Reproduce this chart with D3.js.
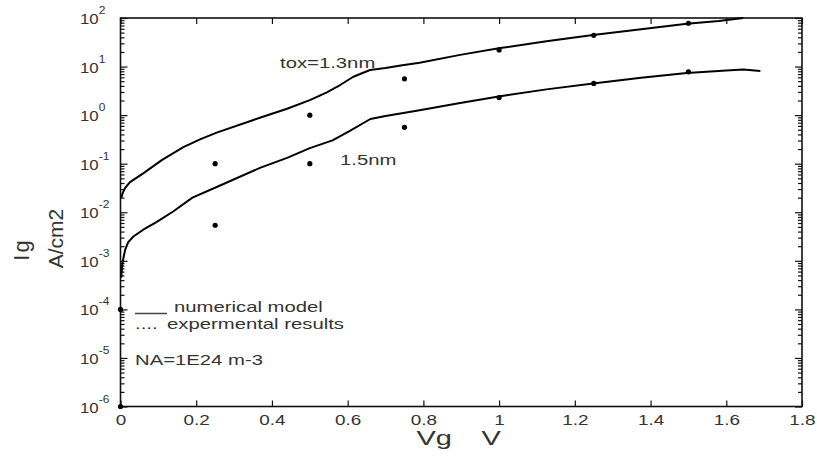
<!DOCTYPE html>
<html>
<head>
<meta charset="utf-8">
<script src="https://cdn.jsdelivr.net/npm/d3@7"></script>
<style>
  body { margin: 0; background: #fff; }
  text { font-family: "Liberation Sans", Arial, sans-serif; fill: #333; }
</style>
</head>
<body>
<div id="chart"></div>
<script>
// numerical model, tox = 1.3nm
const model13V = [0.002, 0.006, 0.012, 0.025, 0.06, 0.11, 0.166, 0.21, 0.254, 0.37, 0.44, 0.50, 0.545, 0.58, 0.615, 0.659, 0.70, 0.74, 0.79, 0.897, 1.003, 1.125, 1.248, 1.375, 1.496, 1.58, 1.645]
const model13I = [0.020, 0.0251, 0.0316, 0.0417, 0.0631, 0.120, 0.219, 0.316, 0.437, 0.891, 1.35, 2.04, 2.95, 4.17, 6.17, 8.51, 9.33, 10.5, 12.0, 17.4, 24.0, 33.1, 44.7, 58.9, 75.9, 87.1, 100]
// numerical model, tox = 1.5nm
const model15V = [0.002, 0.005, 0.012, 0.02, 0.034, 0.06, 0.096, 0.14, 0.19, 0.254, 0.37, 0.44, 0.50, 0.56, 0.607, 0.66, 0.70, 0.79, 0.897, 1.003, 1.125, 1.248, 1.375, 1.496, 1.60, 1.645, 1.69]
const model15I = [0.000447, 0.000891, 0.00166, 0.0024, 0.00316, 0.00437, 0.00631, 0.0105, 0.020, 0.0331, 0.0832, 0.132, 0.209, 0.302, 0.479, 0.832, 0.955, 1.26, 1.78, 2.45, 3.39, 4.47, 5.89, 7.41, 8.32, 8.71, 8.13]
// experimental results
const expV = [0.25, 0.5, 0.75, 1.0, 1.25, 1.5]
const exp13I = [0.1, 1.0, 5.6, 22, 44, 78]
const exp15I = [0.0054, 0.1, 0.56, 2.3, 4.5, 7.8]
const expZeroI = [1e-4, 1e-6]

const xTicks = [0, 0.2, 0.4, 0.6, 0.8, 1, 1.2, 1.4, 1.6, 1.8]
const yDecades = [-6, -5, -4, -3, -2, -1, 0, 1, 2]

var width = 817, height = 456
var plot = {left: 120.5, right: 802, top: 18, bottom: 406.5}

var svg = d3.select("#chart").append("svg")
  .attr("width", width)
  .attr("height", height)

var x = d3.scaleLinear().domain([0, 1.8]).range([plot.left, plot.right])
var y = d3.scaleLog().domain([1e-6, 1e2]).range([plot.bottom, plot.top])

var majors = yDecades.map(e => Math.pow(10, e))
var minors = []
yDecades.slice(0, -1).forEach(e => {
  for (let k = 2; k <= 9; k++) minors.push(k * Math.pow(10, e))
})

// horizontally stretched text, like the scanned original
function label(x0, y0, str, size, k, anchor) {
  return svg.append("text")
    .attr("transform", `translate(${x0},${y0}) scale(${k},1)`)
    .attr("font-size", size + "px")
    .attr("text-anchor", anchor || "start")
    .text(str)
}

// frame
svg.append("rect")
  .attr("x", plot.left).attr("y", plot.top)
  .attr("width", plot.right - plot.left).attr("height", plot.bottom - plot.top)
  .attr("fill", "none").attr("stroke", "#111").attr("stroke-width", 1.6)

// ticks point inwards
function styleAxis(g) {
  g.select(".domain").remove()
  g.selectAll(".tick line").attr("stroke", "#111").attr("stroke-width", 1.2)
}

svg.append("g")
  .attr("transform", `translate(0,${plot.bottom})`)
  .call(d3.axisBottom(x).tickValues(xTicks).tickSizeInner(-6).tickSizeOuter(0).tickPadding(8.5)
    .tickFormat(d3.format("")))
  .call(styleAxis)
  .call(g => g.selectAll(".tick text")
    .attr("font-size", "14px").attr("fill", "#444")
    .attr("font-family", "Liberation Sans, Arial, sans-serif")
    .attr("transform", "scale(1.35,1)"))

svg.append("g")
  .attr("transform", `translate(0,${plot.top})`)
  .call(d3.axisTop(x).tickValues(xTicks).tickSizeInner(-6).tickSizeOuter(0).tickFormat(""))
  .call(styleAxis)

svg.append("g").attr("transform", `translate(${plot.left},0)`)
  .call(d3.axisLeft(y).tickValues(majors).tickSizeInner(-7).tickSizeOuter(0).tickFormat(""))
  .call(styleAxis)
svg.append("g").attr("transform", `translate(${plot.left},0)`)
  .call(d3.axisLeft(y).tickValues(minors).tickSizeInner(-4).tickSizeOuter(0).tickFormat(""))
  .call(styleAxis)
svg.append("g").attr("transform", `translate(${plot.right},0)`)
  .call(d3.axisRight(y).tickValues(majors).tickSizeInner(-7).tickSizeOuter(0).tickFormat(""))
  .call(styleAxis)
svg.append("g").attr("transform", `translate(${plot.right},0)`)
  .call(d3.axisRight(y).tickValues(minors).tickSizeInner(-4).tickSizeOuter(0).tickFormat(""))
  .call(styleAxis)

// y tick labels 10^n
yDecades.forEach(e => {
  var t = label(80, y(Math.pow(10, e)) + 6, "", 14, 1.2)
  t.attr("fill", "#444")
  t.append("tspan").text("10")
  t.append("tspan").attr("font-size", "10px").attr("dy", -10).text(String(e))
})

// model curves
var line = d3.line().x(d => x(d[0])).y(d => y(d[1]))
;[[model13V, model13I], [model15V, model15I]].forEach(s => {
  svg.append("path")
    .datum(d3.zip(s[0], s[1]))
    .attr("fill", "none")
    .attr("stroke", "#000")
    .attr("stroke-width", 2)
    .attr("stroke-linejoin", "round")
    .attr("d", line)
})

// experimental points
var pts = d3.zip(expV, exp13I).concat(d3.zip(expV, exp15I)).concat(expZeroI.map(v => [0, v]))
svg.selectAll("circle.exp")
  .data(pts)
  .enter().append("circle")
  .attr("class", "exp")
  .attr("cx", d => x(d[0]))
  .attr("cy", d => y(d[1]))
  .attr("r", 2.6)
  .attr("fill", "#000")

// annotations
label(280, 68, "tox=1.3nm", 14, 1.45)
label(340, 165, "1.5nm", 14, 1.45)

svg.append("line")
  .attr("x1", 135).attr("x2", 167)
  .attr("y1", 313.5).attr("y2", 313.5)
  .attr("stroke", "#444").attr("stroke-width", 1.5)
label(174, 312, "numerical model", 14, 1.45)
label(135, 329, "....", 14, 1.45).attr("fill", "#777")
label(167, 329, "expermental results", 14, 1.45)
label(135, 365, "NA=1E24 m-3", 14, 1.45)

// axis titles
label(416.5, 445, "Vg", 20, 1.45).attr("fill", "#111")
label(481.5, 445, "V", 20, 1.45).attr("fill", "#111")

svg.append("text")
  .attr("transform", "translate(29,249.5) rotate(-90)")
  .attr("font-size", "22px").attr("letter-spacing", "2px")
  .attr("text-anchor", "middle").attr("fill", "#111")
  .text("Ig")
svg.append("text")
  .attr("transform", "translate(63,238.5) rotate(-90)")
  .attr("font-size", "21px").attr("text-anchor", "middle").attr("fill", "#111")
  .text("A/cm2")
</script>
</body>
</html>
